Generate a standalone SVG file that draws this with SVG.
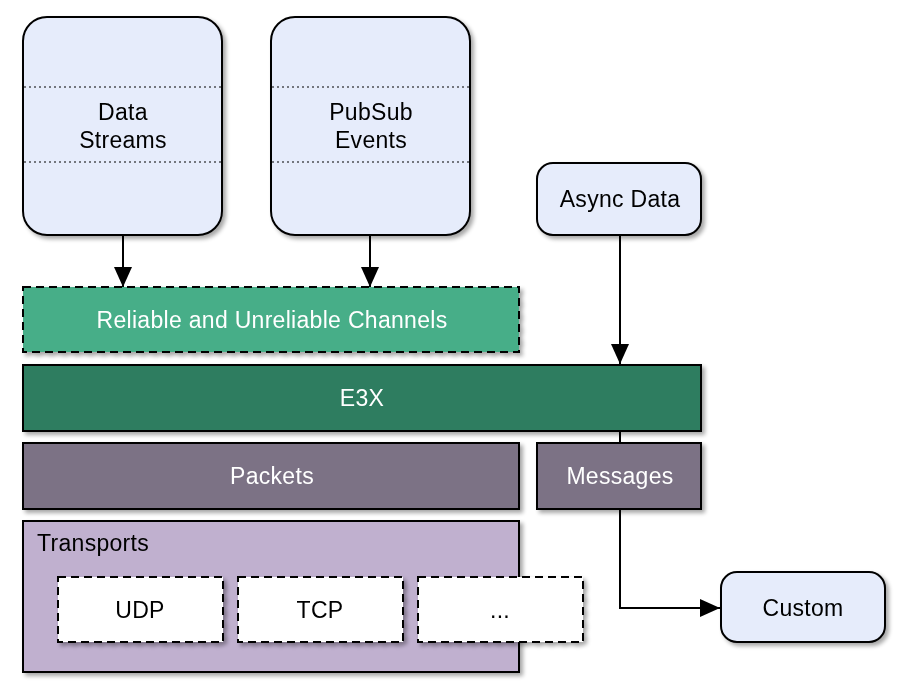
<svg xmlns="http://www.w3.org/2000/svg" width="904" height="694" viewBox="0 0 904 694">
<defs>
<filter id="sh" x="-10%" y="-10%" width="130%" height="130%">
<feGaussianBlur in="SourceAlpha" stdDeviation="2"/>
<feOffset dx="3" dy="3" result="b"/>
<feComponentTransfer><feFuncA type="linear" slope="0.35"/></feComponentTransfer>
<feMerge><feMergeNode/><feMergeNode in="SourceGraphic"/></feMerge>
</filter>
<marker id="arrL" viewBox="0 0 20 20" refX="20" refY="10" markerWidth="20" markerHeight="20" markerUnits="userSpaceOnUse" orient="auto">
<path d="M0,1 L20,10 L0,19 Z" fill="#000"/>
</marker>
</defs>
<style>
text{font-family:"Liberation Sans",Arial,sans-serif;font-size:23px;letter-spacing:0.3px;text-anchor:middle}
.lt{fill:#e6ecfb;stroke:#000;stroke-width:2}
.dot{stroke:#000;stroke-width:1.2;stroke-dasharray:2 3}
.w{fill:#fff}
.k{fill:#000}
.dash{stroke:#000;stroke-width:2;stroke-dasharray:8 5}
.solid{stroke:#000;stroke-width:2}
.conn{stroke:#000;stroke-width:2;fill:none}
</style>
<g id="connectors">
<line class="conn" x1="123" y1="235" x2="123" y2="287" marker-end="url(#arrL)"/>
<line class="conn" x1="370" y1="235" x2="370" y2="287" marker-end="url(#arrL)"/>
<line class="conn" x1="620" y1="235" x2="620" y2="364" marker-end="url(#arrL)"/>
<line class="conn" x1="620" y1="431" x2="620" y2="443"/>
<polyline class="conn" points="620,509 620,608 720,608" marker-end="url(#arrL)"/>
</g>
<g id="data-streams" filter="url(#sh)">
<rect class="lt" x="23" y="17" width="199" height="218" rx="24"/>
<line class="dot" x1="24" y1="87" x2="221" y2="87"/>
<line class="dot" x1="24" y1="162" x2="221" y2="162"/>
<text class="k" x="123" y="120">Data</text>
<text class="k" x="123" y="148">Streams</text>
</g>
<g id="pubsub-events" filter="url(#sh)">
<rect class="lt" x="271" y="17" width="199" height="218" rx="24"/>
<line class="dot" x1="272" y1="87" x2="469" y2="87"/>
<line class="dot" x1="272" y1="162" x2="469" y2="162"/>
<text class="k" x="371" y="120">PubSub</text>
<text class="k" x="371" y="148">Events</text>
</g>
<g id="async-data" filter="url(#sh)">
<rect class="lt" x="537" y="163" width="164" height="72" rx="16"/>
<text class="k" x="620" y="207">Async Data</text>
</g>
<g id="channels" filter="url(#sh)">
<rect class="dash" fill="#47ae88" x="23" y="287" width="496" height="65"/>
<text class="w" x="272" y="328">Reliable and Unreliable Channels</text>
</g>
<g id="e3x" filter="url(#sh)">
<rect class="solid" fill="#2e7d60" x="23" y="365" width="678" height="66"/>
<text class="w" x="362" y="406">E3X</text>
</g>
<g id="packets" filter="url(#sh)">
<rect class="solid" fill="#7b7285" x="23" y="443" width="496" height="66"/>
<text class="w" x="272" y="484">Packets</text>
</g>
<g id="messages" filter="url(#sh)">
<rect class="solid" fill="#7b7285" x="537" y="443" width="164" height="66"/>
<text class="w" x="620" y="484">Messages</text>
</g>
<g id="transports" filter="url(#sh)">
<rect class="solid" fill="#c0b0cf" x="23" y="521" width="496" height="151"/>
<text class="k" x="37" y="551" style="text-anchor:start">Transports</text>
</g>
<g id="udp" filter="url(#sh)">
<rect class="dash" fill="#fff" x="58" y="577" width="165" height="65"/>
<text class="k" x="140" y="618">UDP</text>
</g>
<g id="tcp" filter="url(#sh)">
<rect class="dash" fill="#fff" x="238" y="577" width="165" height="65"/>
<text class="k" x="320" y="618">TCP</text>
</g>
<g id="more" filter="url(#sh)">
<rect class="dash" fill="#fff" x="418" y="577" width="165" height="65"/>
<text class="k" x="500" y="618">...</text>
</g>
<g id="custom" filter="url(#sh)">
<rect class="lt" x="721" y="572" width="164" height="70" rx="16"/>
<text class="k" x="803" y="616">Custom</text>
</g>
</svg>
